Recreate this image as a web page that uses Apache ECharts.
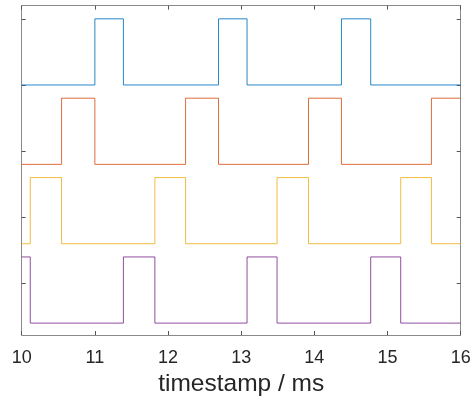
<!DOCTYPE html>
<html><head><meta charset="utf-8">
<script src="https://cdn.jsdelivr.net/npm/echarts@6/dist/echarts.min.js"></script>
<style>html,body{margin:0;padding:0;background:#fff}#c{width:473px;height:399px}</style>
</head><body><div id="c"></div>
<script>
const tStart = 10, tEnd = 16;
const xTicks = [10, 11, 12, 13, 14, 15, 16];
const yTicks = [0, 1, 2, 3, 4];
const names = ['s1', 's2', 's3', 's4'];
const colors = ['#0072BD', '#D95319', '#EDB120', '#7E2F8E'];
const offsets = [3.0, 1.8, 0.6, -0.6];
const initial = [0, 0, 0, 1];
const edges1 = [11.00, 11.39, 12.69, 13.08, 14.37, 14.77];
const edges2 = [10.545, 11.00, 12.24, 12.69, 13.92, 14.37, 15.60];
const edges3 = [10.117, 10.545, 11.82, 12.24, 13.49, 13.92, 15.18, 15.60];
const edges4 = [10.117, 11.39, 11.82, 13.08, 13.49, 14.77, 15.18];
const allEdges = [edges1, edges2, edges3, edges4];

function build(k) {
  let s = initial[k];
  const pts = [[tStart, s + offsets[k]]];
  allEdges[k].forEach(t => { s = 1 - s; pts.push([t, s + offsets[k]]); });
  pts.push([tEnd, s + offsets[k]]);
  return pts;
}

const axisColor = '#8a8a8a';
const tickStyle = {color: '#555', width: 1};
const chart = echarts.init(document.getElementById('c'), null, {renderer: 'canvas'});
chart.setOption({
  animation: false,
  grid: {left: 21.7, right: 12.3, top: 5.6, bottom: 64, containLabel: false, outerBoundsMode: 'none'},
  xAxis: [{
    type: 'value', min: tStart, max: tEnd, interval: 1, position: 'bottom',
    name: 'timestamp / ms', nameLocation: 'middle', nameGap: 36,
    nameTextStyle: {fontFamily: 'Liberation Sans', fontSize: 24.5, color: '#262626'},
    axisLine: {show: true, onZero: false, lineStyle: {color: axisColor, width: 1}},
    axisTick: {show: true, inside: true, length: 4, lineStyle: tickStyle},
    axisLabel: {fontFamily: 'Liberation Sans', fontSize: 18, color: '#262626', margin: 14},
    splitLine: {show: false}
  }, {
    type: 'value', min: tStart, max: tEnd, interval: 1, position: 'top',
    axisLine: {show: true, onZero: false, lineStyle: {color: axisColor, width: 1}},
    axisTick: {show: true, inside: true, length: 4, lineStyle: tickStyle},
    axisLabel: {show: false}, splitLine: {show: false}
  }],
  yAxis: [{
    type: 'value', min: -0.78, max: 4.2, position: 'left',
    axisLine: {show: true, onZero: false, lineStyle: {color: axisColor, width: 1}},
    axisTick: {show: true, inside: true, length: 4, customValues: yTicks, lineStyle: tickStyle},
    axisLabel: {show: false}, splitLine: {show: false}
  }, {
    type: 'value', min: -0.78, max: 4.2, position: 'right',
    axisLine: {show: true, onZero: false, lineStyle: {color: axisColor, width: 1}},
    axisTick: {show: true, inside: true, length: 4, customValues: yTicks, lineStyle: tickStyle},
    axisLabel: {show: false}, splitLine: {show: false}
  }],
  series: names.map((n, k) => ({
    name: n, type: 'line', xAxisIndex: 0, yAxisIndex: 0, step: 'end',
    data: build(k), showSymbol: false, symbol: 'none',
    lineStyle: {color: colors[k], width: 1, opacity: 0.85},
    silent: true
  }))
});
</script></body></html>
